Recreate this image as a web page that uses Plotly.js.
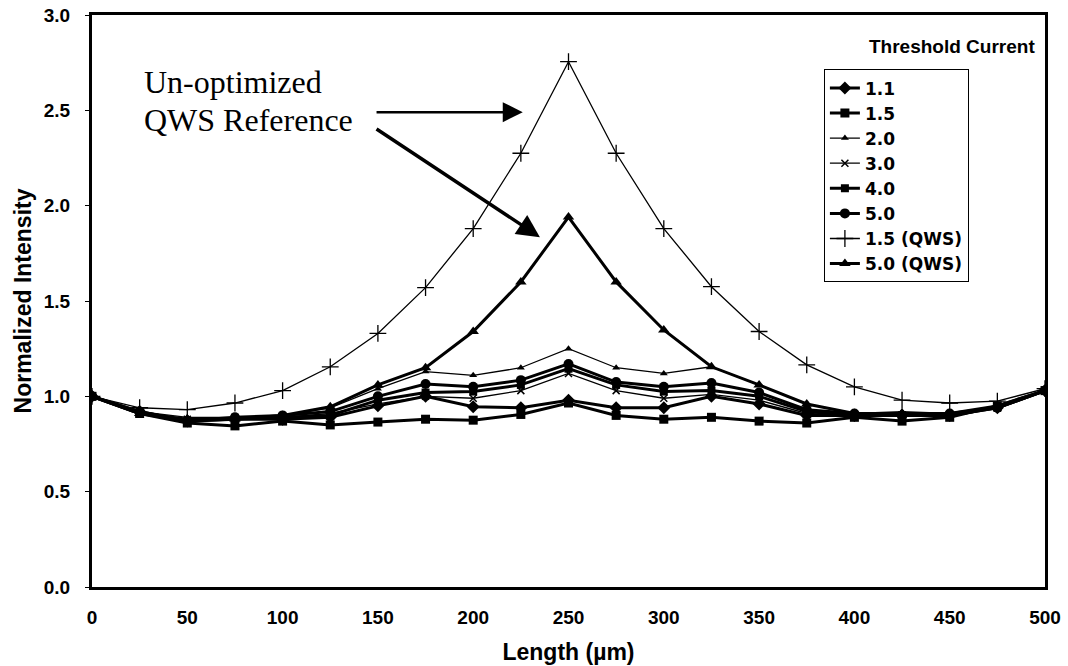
<!DOCTYPE html>
<html>
<head>
<meta charset="utf-8">
<script src="https://cdn.plot.ly/plotly-3.0.1.min.js"></script>
<style>html,body{margin:0;padding:0;background:#fff;}#chart{width:1068px;height:666px;}</style>
</head>
<body>
<div id="chart"></div>
<script>
const lengthUm = [0,25,50,75,100,125,150,175,200,225,250,275,300,325,350,375,400,425,450,475,500];

const seriesNames = ["1.1","1.5","2.0","3.0","4.0","5.0","1.5 (QWS)","5.0 (QWS)"];

const s_1_1 = [1.0,0.92,0.87,0.88,0.88,0.89,0.95,1.0,0.945,0.94,0.98,0.94,0.94,1.0,0.96,0.90,0.90,0.90,0.90,0.94,1.03];
const s_1_5 = [1.0,0.91,0.86,0.845,0.87,0.85,0.865,0.88,0.875,0.905,0.965,0.90,0.88,0.89,0.87,0.86,0.89,0.87,0.89,0.95,1.03];
const s_2_0 = [1.0,0.92,0.89,0.89,0.90,0.94,1.04,1.13,1.11,1.15,1.25,1.15,1.12,1.155,1.06,0.96,0.91,0.92,0.91,0.95,1.03];
const s_3_0 = [1.0,0.92,0.88,0.89,0.89,0.91,0.96,1.0,0.99,1.03,1.12,1.03,0.99,1.01,0.98,0.91,0.90,0.90,0.90,0.94,1.03];
const s_4_0 = [1.0,0.91,0.87,0.88,0.89,0.90,0.98,1.02,1.025,1.06,1.145,1.06,1.025,1.03,1.0,0.92,0.90,0.90,0.90,0.94,1.03];
const s_5_0 = [1.0,0.92,0.87,0.89,0.90,0.92,1.0,1.065,1.05,1.085,1.17,1.075,1.05,1.07,1.02,0.93,0.91,0.90,0.91,0.94,1.03];
const s_qws_1_5 = [1.0,0.94,0.93,0.965,1.03,1.155,1.33,1.57,1.88,2.275,2.755,2.275,1.88,1.575,1.34,1.165,1.05,0.98,0.965,0.975,1.04];
const s_qws_5_0 = [1.0,0.91,0.88,0.88,0.90,0.945,1.06,1.15,1.34,1.60,1.94,1.60,1.348,1.155,1.06,0.96,0.91,0.91,0.91,0.95,1.03];

const xTicks = [0,50,100,150,200,250,300,350,400,450,500];
const yTicks = [0,0.5,1.0,1.5,2.0,2.5,3.0];
const yTickText = ["0.0","0.5","1.0","1.5","2.0","2.5","3.0"];

const seriesData = [s_1_1,s_1_5,s_2_0,s_3_0,s_4_0,s_5_0,s_qws_1_5,s_qws_5_0];
const styles = [
  {w:3,sym:"diamond",size:10,lw:0},
  {w:3,sym:"square",size:9,lw:0},
  {w:1.3,sym:"triangle-up",size:7,lw:0},
  {w:1.3,sym:"x-thin",size:7,lw:1.5},
  {w:3,sym:"square",size:8,lw:0},
  {w:3,sym:"circle",size:10,lw:0},
  {w:1.3,sym:"cross-thin",size:12,lw:1.3},
  {w:3,sym:"triangle-up",size:10,lw:0}
];

const SANS = "Liberation Sans, Arial, sans-serif";
const WIDE = "DejaVu Sans, Liberation Sans, sans-serif";
const b = s => "<b>" + s + "</b>";

const traces = seriesData.map((ys,i)=>({
  type:"scatter", mode:"lines+markers", name:b(seriesNames[i]),
  x:lengthUm, y:ys,
  line:{color:"#000",width:styles[i].w},
  marker:{symbol:styles[i].sym,size:styles[i].size,color:"#000",line:{color:"#000",width:styles[i].lw}}
}));

const tickFont = {family:SANS,size:19,color:"#000"};

const layout = {
  width:1068,height:666,
  margin:{l:92,r:23,t:15,b:79},
  paper_bgcolor:"#fff",plot_bgcolor:"#fff",
  showlegend:true,
  legend:{x:0.768,y:0.905,xanchor:"left",yanchor:"top",bordercolor:"#000",borderwidth:1,
          bgcolor:"#fff",font:{family:WIDE,size:17,color:"#000"},
          tracegroupgap:0},
  xaxis:{range:[0,500],tickvals:xTicks,ticktext:xTicks.map(v=>b(String(v))),showgrid:false,zeroline:false,
         showline:true,linecolor:"#000",linewidth:3,mirror:true,ticks:"",tickfont:tickFont,ticklabelstandoff:11,
         title:{text:b("Length (µm)"),font:{family:SANS,size:23,color:"#000"},standoff:18}},
  yaxis:{range:[0,3],tickvals:yTicks,ticktext:yTickText.map(b),showgrid:false,zeroline:false,
         showline:true,linecolor:"#000",linewidth:3,mirror:true,ticks:"outside",ticklen:4,tickcolor:"#000",tickfont:tickFont,
         ticklabelstandoff:11,
         title:{text:b("Normalized Intensity"),font:{family:SANS,size:23,color:"#000"},standoff:6}},
  annotations:[
    {xref:"paper",yref:"paper",x:0.902,y:0.945,xanchor:"center",yanchor:"middle",text:b("Threshold Current"),showarrow:false,
     font:{family:SANS,size:19,color:"#000"}},
    {xref:"x",yref:"y",x:26,y:2.648,xanchor:"left",yanchor:"middle",align:"left",
     text:"Un-optimized",showarrow:false,
     font:{family:"Liberation Serif, Times New Roman, serif",size:32,color:"#000"}},
    {xref:"x",yref:"y",x:26,y:2.449,xanchor:"left",yanchor:"middle",align:"left",
     text:"QWS Reference",showarrow:false,
     font:{family:"Liberation Serif, Times New Roman, serif",size:32,color:"#000"}},
    {xref:"x",yref:"y",axref:"x",ayref:"y",x:226,y:2.49,ax:148.5,ay:2.49,text:"",
     showarrow:true,arrowhead:2,arrowsize:1.6,arrowwidth:2.5,arrowcolor:"#000"},
    {xref:"x",yref:"y",axref:"x",ayref:"y",x:235,y:1.835,ax:148.5,ay:2.407,text:"",
     showarrow:true,arrowhead:2,arrowsize:1.3,arrowwidth:3.5,arrowcolor:"#000"}
  ]
};

Plotly.newPlot("chart",traces,layout,{displayModeBar:false,staticPlot:true});
</script>
</body>
</html>
